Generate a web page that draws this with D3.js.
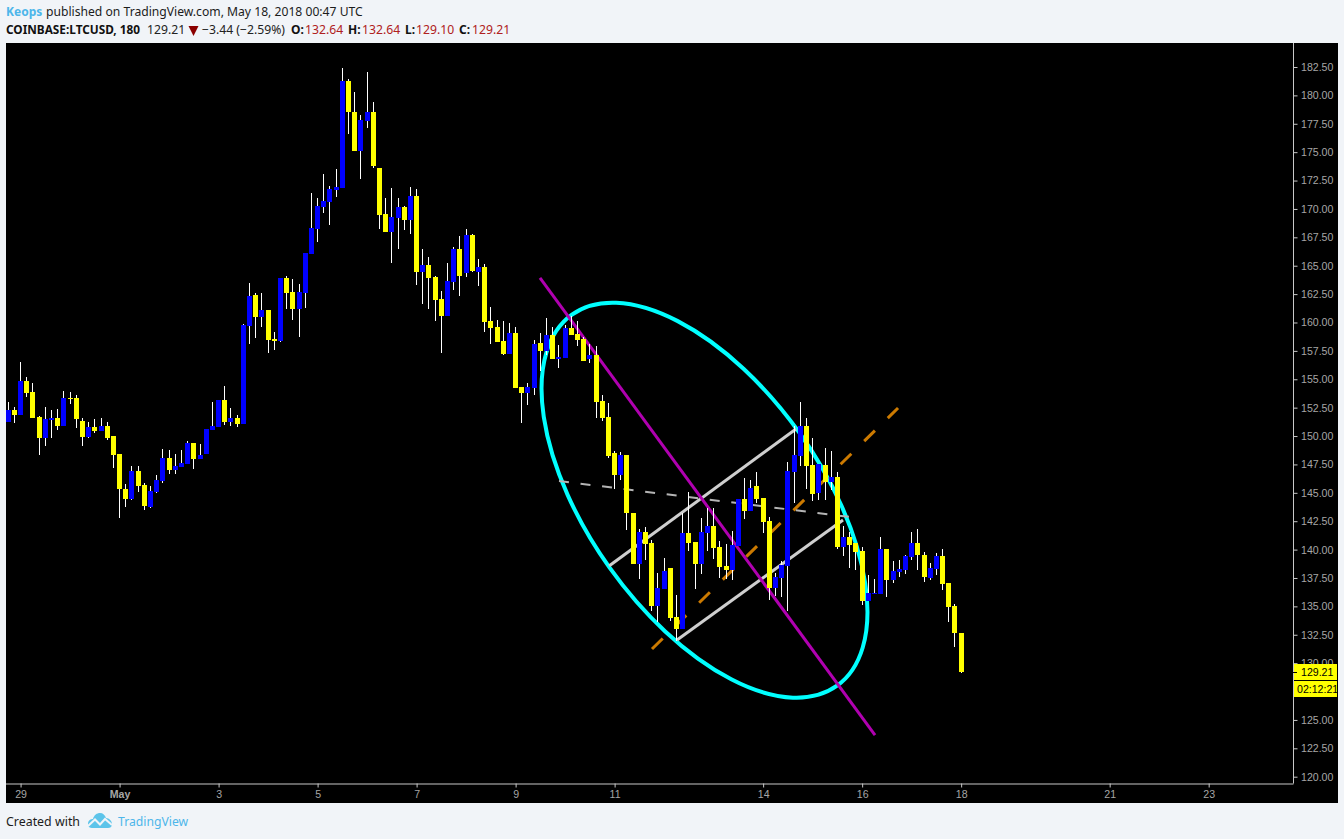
<!DOCTYPE html>
<html><head><meta charset="utf-8">
<script src="https://d3js.org/d3.v7.min.js"></script>
<style>
html,body{margin:0;padding:0;background:#f1f4f8;overflow:hidden}
svg{display:block}
</style></head><body>
<svg id="c" width="1344" height="839"></svg>
<script>
const opens=[151.25,152.31,151.87,154.86,153.89,151.69,149.84,151.43,151.60,150.90,
153.36,153.36,151.34,149.93,150.81,150.46,150.90,150.02,148.44,145.36,
144.48,146.94,145.71,143.77,145.09,146.06,148.08,147.03,147.29,147.56,
149.40,148.00,148.44,150.55,150.81,153.19,151.25,151.60,151.08,159.70,
162.43,160.50,161.11,158.56,158.38,163.93,162.70,161.20,162.61,166.04,
168.24,170.18,170.62,171.67,171.85,181.27,178.54,175.11,177.75,178.54,
173.61,169.56,167.98,169.21,170.18,169.03,171.15,164.46,165.07,164.02,
162.08,160.58,163.58,166.48,164.36,167.71,164.45,164.89,160.14,159.61,
158.38,157.24,159.08,154.33,153.80,154.24,158.21,157.50,158.91,156.80,
156.88,159.52,159.00,158.55,156.80,157.15,153.10,151.69,148.52,146.58,
148.34,143.23,138.75,141.56,140.59,135.05,136.55,138.39,134.08,133.02,
141.47,140.68,138.75,141.47,142.09,140.24,138.57,138.22,140.33,144.47,
143.41,145.61,144.55,142.53,136.63,137.51,138.57,146.84,148.26,150.90,
147.47,145.00,147.47,145.97,146.41,140.25,141.13,140.60,139.90,135.50,
136.11,136.11,140.07,137.35,138.05,138.23,139.37,140.60,139.55,137.52,
138.31,139.46,137.08,135.06,132.64];
const highs=[153.01,152.57,156.53,155.21,154.69,151.78,152.57,152.31,152.40,153.98,
153.89,153.63,151.60,151.25,151.52,151.60,151.25,150.02,148.44,145.80,
147.38,147.38,145.88,145.62,146.59,148.88,148.79,148.44,148.79,149.58,
149.40,149.32,150.64,153.01,153.19,154.42,152.48,151.87,159.88,163.49,
162.61,162.61,161.11,159.17,163.93,164.10,163.84,163.40,166.13,171.41,
170.97,173.08,172.03,173.52,182.41,181.44,180.30,178.28,182.06,179.42,
173.61,170.97,171.85,170.97,170.27,171.94,171.76,166.48,165.78,164.10,
162.78,165.25,166.66,167.62,168.24,167.80,165.60,165.16,161.37,160.23,
160.14,159.96,159.61,154.33,154.68,158.47,159.08,160.40,159.61,158.03,
159.79,160.58,160.14,158.73,158.12,157.94,153.63,152.92,148.69,148.60,
148.34,143.23,141.83,142.00,140.86,137.95,139.27,138.39,136.02,143.23,
145.08,140.68,142.79,143.67,143.67,140.77,140.51,141.65,144.47,146.31,
146.14,146.84,144.55,142.88,137.95,139.01,147.72,150.90,153.01,151.61,
149.85,147.56,148.97,148.70,146.85,142.10,141.57,140.60,140.25,137.79,
137.43,141.13,140.07,139.02,139.11,139.55,141.57,141.84,139.81,138.84,
139.72,140.07,137.08,135.23,132.64];
const lows=[151.25,151.16,151.87,153.45,151.60,148.35,149.14,149.84,150.55,150.90,
152.84,150.72,149.14,149.84,150.28,150.46,149.67,147.20,142.80,143.77,
144.39,145.09,143.51,143.68,145.00,145.88,146.68,146.68,147.29,147.56,
147.12,148.00,148.44,150.55,150.81,150.99,150.90,150.81,151.08,158.12,
158.65,159.61,157.33,157.59,158.30,161.20,160.23,158.73,161.29,166.04,
167.10,169.65,168.59,171.06,171.85,176.60,175.11,172.64,177.13,173.61,
168.24,167.98,165.25,166.48,168.15,167.80,163.31,161.64,161.20,160.14,
157.33,160.58,162.87,162.34,164.01,164.45,163.22,159.17,158.12,158.29,
157.15,157.24,154.24,151.16,152.75,153.63,155.74,157.15,156.80,156.00,
156.88,158.91,157.94,156.62,156.44,151.60,151.34,148.08,145.35,146.14,
141.74,138.75,137.43,139.10,134.61,133.64,136.55,133.73,131.97,133.02,
139.89,136.55,137.87,139.89,139.19,137.51,137.43,137.34,140.33,142.71,
143.41,144.11,141.47,135.58,135.93,135.84,134.61,144.12,147.38,145.36,
144.30,144.39,144.39,145.27,140.07,139.46,138.40,138.23,135.15,135.50,
136.11,136.11,135.85,137.08,137.61,137.87,139.11,138.23,137.17,137.35,
137.79,136.47,133.65,131.45,129.10];
const closes=[152.31,151.87,154.86,153.80,151.60,149.84,151.52,151.60,150.90,153.36,
153.28,151.52,149.93,150.81,150.46,150.90,149.84,148.35,145.36,144.48,
146.94,145.62,143.86,145.18,146.15,148.08,147.03,147.38,147.64,149.40,
148.00,148.35,150.64,150.90,153.19,151.25,151.60,151.08,159.76,162.34,
160.50,161.11,158.47,158.38,163.93,162.61,161.20,162.70,166.13,168.33,
170.27,170.71,171.76,171.94,181.27,178.54,175.11,177.84,178.54,173.79,
169.47,167.98,169.30,170.18,169.03,171.15,164.46,165.07,163.93,161.99,
160.58,163.66,166.48,164.10,167.71,164.54,164.89,160.05,159.52,158.29,
157.24,159.08,154.24,153.80,154.33,158.12,157.50,158.91,156.80,156.97,
159.52,158.91,158.47,156.62,157.15,153.01,151.60,148.26,146.58,148.34,
143.23,138.75,141.56,140.51,135.05,136.63,138.13,133.99,133.02,141.47,
140.59,138.75,141.56,142.09,140.15,138.48,138.22,140.42,144.47,143.41,
145.43,144.47,142.44,136.63,137.60,138.66,146.93,148.34,150.90,147.38,
144.92,147.56,145.97,146.41,140.25,141.13,140.43,139.81,135.50,136.20,
136.20,140.07,137.35,138.14,138.31,139.46,140.60,139.55,137.61,138.40,
139.46,137.00,134.97,132.68,129.21];

const priceTicks=d3.range(0,26).map(k=>120+k*2.5).filter(v=>v!==127.5);
const timeBars=[2,18,34,50,66,82,98,122,138,154,178,194];
const timeLabels=["29","May","3","5","7","9","11","14","16","18","21","23"];

// Drawings, anchored as [bar index, price]
const trendLine=[[85.94,163.92],[140.08,123.67]];
const channelUpper=[[97.09,138.56],[127.31,150.62]];
const channelLower=[[108.08,132.04],[134.91,142.61]];
const channelMid=[[104.04,131.25],[143.8,152.47]];
const crossDash=[[89.01,146.04],[136.04,142.87]];
const ellipseAxis=[[91.10,160.69],[133.95,128.01]];
const ellipseSide=[127.84,150.31];

const lastPrice="129.21", countdown="02:12:21";

const UP="#0000ff", DOWN="#ffff00";
const svg=d3.select("#c");
const axisFont="'Liberation Sans',Arial,sans-serif";
const headFont="'Noto Sans',sans-serif";

const x=d3.scaleLinear().domain([0,154]).range([8.2,961.15]);
const y=d3.scaleLinear().domain([120,182.5]).range([776.7,67]);

svg.append("rect").attr("x",6).attr("y",43).attr("width",1332).attr("height",760).attr("fill","#000");

svg.append("clipPath").attr("id","plot").append("rect").attr("x",6).attr("y",43).attr("width",1287).attr("height",740);
const plot=svg.append("g").attr("clip-path","url(#plot)");

// drawings sit under the candles
const seg=(pts,col,w,dash)=>plot.append("path")
  .attr("d",d3.line().x(d=>x(d[0])).y(d=>y(d[1]))(pts))
  .attr("fill","none").attr("stroke",col).attr("stroke-width",w)
  .attr("stroke-dasharray",dash||null);

const ax=x(ellipseAxis[0][0]),ay=y(ellipseAxis[0][1]),bx=x(ellipseAxis[1][0]),by=y(ellipseAxis[1][1]);
const cx=(ax+bx)/2,cy=(ay+by)/2;
const rx=Math.hypot(bx-ax,by-ay)/2, ry=Math.hypot(x(ellipseSide[0])-cx,y(ellipseSide[1])-cy);
const ang=Math.atan2(by-ay,bx-ax)*180/Math.PI;
plot.append("ellipse").attr("cx",cx).attr("cy",cy).attr("rx",rx).attr("ry",ry)
  .attr("transform",`rotate(${ang} ${cx} ${cy})`)
  .attr("fill","none").attr("stroke","#00ffff").attr("stroke-width",4);
seg(channelMid,"#cc7a00",3,"15 18");
seg(crossDash,"#b4b4b4",2,"10 11.7");
seg(channelUpper,"#cfcfcf",3);
seg(channelLower,"#cfcfcf",3);
seg(trendLine,"#b000b0",3);

// candles
const idx=d3.range(opens.length);
const col=i=>Math.floor(x(i));
plot.append("g").selectAll("rect").data(idx).join("rect")
  .attr("shape-rendering","crispEdges")
  .attr("x",col).attr("width",1)
  .attr("y",i=>Math.round(y(highs[i])))
  .attr("height",i=>Math.max(1,Math.round(y(lows[i]))-Math.round(y(highs[i]))))
  .attr("fill","#fff");
plot.append("g").selectAll("rect").data(idx).join("rect")
  .attr("shape-rendering","crispEdges")
  .attr("x",i=>col(i)-2).attr("width",5)
  .attr("y",i=>Math.round(y(Math.max(opens[i],closes[i]))))
  .attr("height",i=>Math.max(1,Math.round(y(Math.min(opens[i],closes[i])))-Math.round(y(Math.max(opens[i],closes[i])))))
  .attr("fill",i=>closes[i]>=opens[i]?UP:DOWN);

// axes
const AX="#c8c8c8", LBL="#a6a6a6", AFS=10.6;
const ya=svg.append("g").attr("transform","translate(1293.5,0)")
  .call(d3.axisRight(y).tickValues(priceTicks).tickFormat(d3.format(".2f")).tickSize(4).tickPadding(3.5));
const xa=svg.append("g").attr("transform","translate(0,783.5)")
  .call(d3.axisBottom(x).tickValues(timeBars).tickFormat((d,i)=>timeLabels[i]).tickSize(4).tickPadding(3));
xa.selectAll("text").attr("font-weight",(d,i)=>timeLabels[i]==="May"?"bold":"normal");
[ya,xa].forEach(a=>{
  a.attr("font-family",axisFont).attr("font-size",AFS);
  a.selectAll("text").attr("fill",LBL);
  a.selectAll("line").attr("stroke",AX);
  a.select(".domain").attr("stroke",AX);
});
xa.select(".domain").attr("d","M6,0.5H1293.5");
ya.select(".domain").attr("d","M0,43V783.5");

// last-price tag
svg.append("rect").attr("x",1294).attr("y",664).attr("width",43).attr("height",16).attr("fill","#ffff00");
svg.append("rect").attr("x",1294).attr("y",681).attr("width",43).attr("height",16).attr("fill","#ffff00");
svg.append("rect").attr("x",1293).attr("y",672).attr("width",4).attr("height",1).attr("fill","#000");
svg.append("clipPath").attr("id","tag").append("rect").attr("x",1294).attr("y",660).attr("width",43).attr("height",40);
const tags=svg.append("g").attr("clip-path","url(#tag)").attr("font-family",axisFont).attr("font-size",AFS).attr("fill","#000");
tags.append("text").attr("x",1301).attr("y",676).text(lastPrice);
tags.append("text").attr("x",1297).attr("y",693).text(countdown);

// header
const t=(xp,yp,str,fill,w,fs)=>svg.append("text").attr("x",xp).attr("y",yp).text(str)
  .attr("font-family",headFont).attr("font-size",fs||12).attr("fill",fill).attr("font-weight",w||"normal");
t(6,16,"Keops","#4db6ea","bold",12);
t(46,16,"published on TradingView.com, May 18, 2018 00:47 UTC","#1c1c1c","normal",12.15);
t(6,34,"COINBASE:LTCUSD, 180","#111","bold",11.8);
t(147,34,"129.21","#222","normal",12.2);
svg.append("path").attr("d",d3.line()([[188.5,26],[198.5,26],[193.5,36]])+"Z").attr("fill","#8b0000");
t(202,34,"\u22123.44 (\u22122.59%)","#222","normal",12.2);
const ohlc=[["O:",291,"132.64",305],["H:",348,"132.64",362],["L:",405,"129.10",416],["C:",459,"129.21",472]];
ohlc.forEach(r=>{t(r[1],34,r[0],"#111","bold");t(r[3],34,r[2],"#b02020","normal",12.2);});

// footer
t(6,826,"Created with","#1c1c1c","normal",12.4);
const logo=svg.append("g").attr("transform","translate(88,812)");
logo.append("path").attr("fill","#5cc4ea")
  .attr("d","M0,12 C0,8 3,7 5,7 C6,3 9,1 12,1 C15,1 17,3 18,6 C21,6 24,9 24,12 C24,15 22,16 20,16 L4,16 C2,16 0,15 0,12 Z");
logo.append("path").attr("fill","none").attr("stroke","#f1f4f8").attr("stroke-width",2)
  .attr("d","M0,14 L7,7.5 L12,12.5 L17,7 L24,13");
t(118,826,"TradingView","#4db6ea","normal",12.2);
</script>
</body></html>
